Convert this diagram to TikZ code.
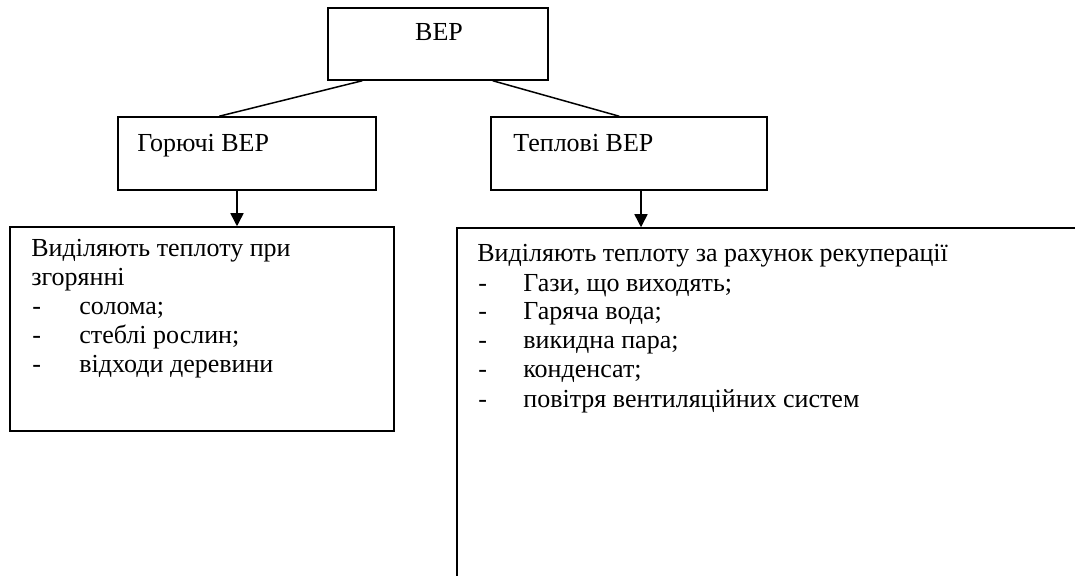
\documentclass[tikz,border=0pt]{standalone}
\usepackage{fontspec}
\setmainfont{Liberation Serif}
\usetikzlibrary{arrows.meta}

\begin{document}
\begin{tikzpicture}[x=0.5pt, y=-0.5pt, font=\fontsize{13pt}{14.5pt}\selectfont]
			\tikzset{blok/.style={rectangle, draw=black, line width=0.75pt, inner sep=0pt},
			strilka/.style={line width=0.75pt, -{Triangle[width=6.5pt, length=6.5pt]}},
			tekst/.style={anchor=base west, inner sep=0pt}};

			\useasboundingbox (0,0) rectangle (1075,576);
			\clip (0,0) rectangle (1075,576);

			\node[blok, minimum width=110pt, minimum height=36pt] (bep) at (438,44) {};
			\node[blok, minimum width=129pt, minimum height=36.5pt] (gor) at (247,153.5) {};
			\node[blok, minimum width=138pt, minimum height=36.5pt] (tep) at (629,153.5) {};
			\node[blok, minimum width=192pt, minimum height=102pt] (lbox) at (202,329) {};
			\node[blok, minimum width=321.5pt, minimum height=186pt] (rbox) at (778.5,414) {};

			\node[anchor=base, inner sep=0pt] (t-bep) at (439,41) {ВЕР};
			\node[tekst] (t-gor) at (137,152) {Горючі ВЕР};
			\node[tekst] (t-tep) at (513,152) {Теплові ВЕР};

			\node[tekst] (l-1) at (31,257) {Виділяють теплоту при};
			\node[tekst] (l-2) at (31,286) {згорянні};
			\foreach \name/\y/\txt in {a/315/солома;, b/344/стеблі рослин;, c/373/відходи деревини}{
				\node[tekst] (ld-\name) at (32,\y) {-};
				\node[tekst] (li-\name) at (79,\y) {\txt};
			}

			\node[tekst] (r-1) at (477,262) {Виділяють теплоту за рахунок рекуперації};
			\foreach \name/\y/\txt in {a/292/{Гази, що виходять;}, b/320/Гаряча вода;, c/349/викидна пара;, d/378/конденсат;, e/408/повітря вентиляційних систем}{
				\node[tekst] (rd-\name) at (478,\y) {-};
				\node[tekst] (ri-\name) at (523,\y) {\txt};
			}

			\draw[line width=0.75pt] ([xshift=17.5pt]bep.south west) -- ([xshift=51pt]gor.north west);
			\draw[line width=0.75pt] ([xshift=-28pt]bep.south east) -- ([xshift=64.5pt]tep.north west);
			\draw[strilka] ([xshift=-5pt]gor.south) -- ([xshift=-5pt]gor.south |- lbox.north);
			\draw[strilka] ([xshift=6pt]tep.south) -- ([xshift=6pt]tep.south |- rbox.north);

		\end{tikzpicture}
\end{document}
